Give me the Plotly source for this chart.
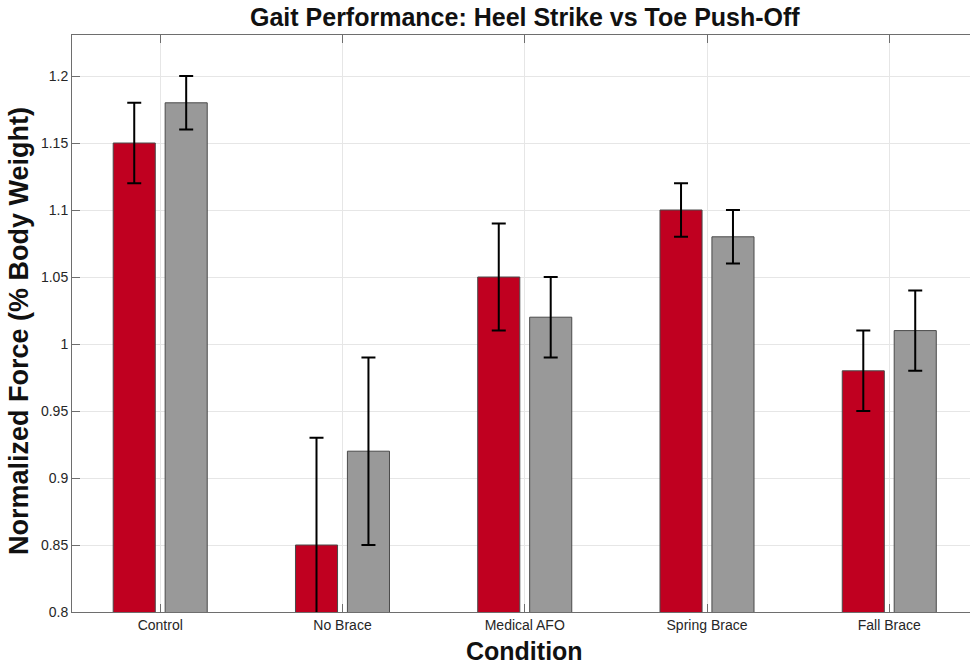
import plotly.graph_objects as go

categories = ["Control", "No Brace", "Medical AFO", "Spring Brace", "Fall Brace"]
heel_strike = [1.15, 0.85, 1.05, 1.10, 0.98]
heel_err = [0.03, 0.08, 0.04, 0.02, 0.03]
toe_pushoff = [1.18, 0.92, 1.02, 1.08, 1.01]
toe_err = [0.02, 0.07, 0.03, 0.02, 0.03]
y_ticks = [0.8, 0.85, 0.9, 0.95, 1, 1.05, 1.1, 1.15, 1.2]
y_ticktext = ["0.8", "0.85", "0.9", "0.95", "1", "1.05", "1.1", "1.15", "1.2"]

FONT = "Liberation Sans, Arial, Helvetica, sans-serif"
AX = "#6e6e6e"
L, R, T, B = 72, 0, 35, 52
W, H = 970, 664
PW, PH = W - L - R, H - T - B


def px_x(x):
    return (x - L) / PW


def px_y(y):
    return (H - B - y) / PH


fig = go.Figure()
fig.add_trace(go.Bar(
    name="Heel Strike", x=categories, y=heel_strike,
    marker=dict(color="#c00020", line=dict(color="#4a4a4a", width=1)),
    error_y=dict(type="data", array=heel_err, color="black", thickness=2, width=7),
))
fig.add_trace(go.Bar(
    name="Toe Push-Off", x=categories, y=toe_pushoff,
    marker=dict(color="#999999", line=dict(color="#4a4a4a", width=1)),
    error_y=dict(type="data", array=toe_err, color="black", thickness=2, width=7),
))

fig.update_layout(
    width=W, height=H,
    margin=dict(l=L, r=R, t=T, b=B, autoexpand=False),
    plot_bgcolor="white", paper_bgcolor="white",
    barmode="group", bargap=0.43, bargroupgap=0.19,
    showlegend=False,
    font=dict(family=FONT, color="#262626", size=13),
    annotations=[
        dict(text="<b>Gait Performance: Heel Strike vs Toe Push-Off</b>",
             xref="paper", yref="paper", x=px_x(524.5), y=px_y(17),
             xanchor="center", yanchor="middle", showarrow=False,
             font=dict(size=25, color="#111111")),
        dict(text="<b>Condition</b>",
             xref="paper", yref="paper", x=px_x(524), y=px_y(651),
             xanchor="center", yanchor="middle", showarrow=False,
             font=dict(size=25, color="#111111")),
        dict(text="<b>Normalized Force (% Body Weight)</b>",
             xref="paper", yref="paper", x=px_x(19), y=px_y(331),
             xanchor="center", yanchor="middle", showarrow=False, textangle=-90,
             font=dict(size=27, color="#111111")),
    ],
)
fig.update_xaxes(
    range=[-0.484, 4.443], automargin=False,
    showgrid=True, gridcolor="#e6e6e6", gridwidth=1,
    showline=True, linecolor=AX, linewidth=1, mirror="ticks",
    ticks="inside", ticklen=8, tickcolor=AX,
    tickfont=dict(size=14, color="#262626"),
)
fig.update_yaxes(
    range=[0.8, 1.2306], automargin=False,
    tickvals=y_ticks, ticktext=y_ticktext,
    showgrid=True, gridcolor="#e6e6e6", gridwidth=1,
    showline=True, linecolor=AX, linewidth=1, mirror=False,
    ticks="inside", ticklen=8, tickcolor=AX,
    tickfont=dict(size=14, color="#262626"),
    zeroline=False,
)

fig.write_html("out.html", config={"displayModeBar": False},
               post_script="document.body.style.margin='0';document.body.style.padding='0';")
